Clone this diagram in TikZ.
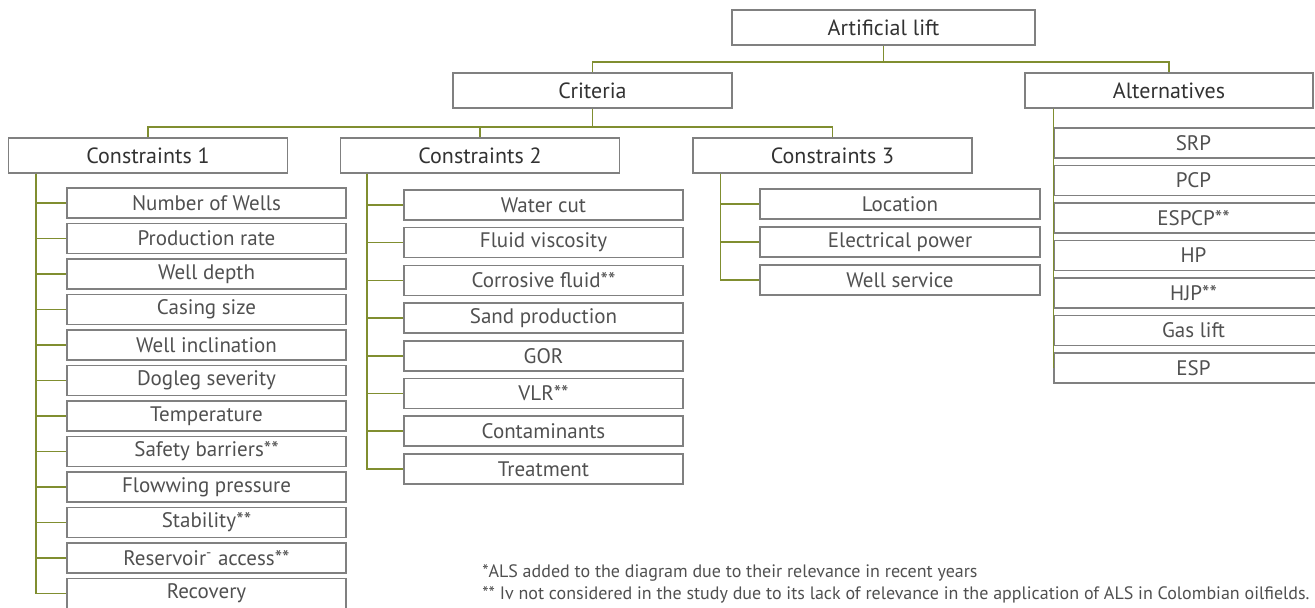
\documentclass[tikz,border=0pt]{standalone}
\usepackage{fontspec}
\setmainfont{PT Sans}
\usetikzlibrary{positioning}
\definecolor{oliva}{RGB}{128,142,48}
\definecolor{gris}{RGB}{128,128,128}
\definecolor{textogris}{RGB}{80,80,80}
\definecolor{titulo}{RGB}{50,50,50}
\tikzset{
  cabeza/.style={rectangle, draw=gris, line width=0.75pt, fill=white, inner sep=0pt,
                 minimum width=139.5pt, minimum height=17.5pt, text=titulo,
                 font=\fontsize{11}{13}\selectfont},
  item/.style={rectangle, draw=gris, line width=0.75pt, fill=white, inner sep=0pt,
               minimum width=139.5pt, minimum height=15pt, text=textogris,
               font=\fontsize{10.5}{12}\selectfont},
  linea/.style={draw=oliva, line width=0.75pt},
  nota/.style={anchor=west, inner sep=0pt, text=textogris, font=\fontsize{9}{10}\selectfont}
}
\begin{document}
\begin{tikzpicture}[x=0.5pt, y=-0.5pt]
    \useasboundingbox (0,0) rectangle (1315,607);
    % niveles superiores
    \node[cabeza, minimum width=151.5pt] (lift) at (883.5,27.5) {Artificial lift};
    \node[cabeza] (crit) at (592.5,90.5) {Criteria};
    \node[cabeza, minimum width=144pt] (alt) at (1169,90.5) {Alternatives};
    \node[cabeza] (c1) at (148,155.5) {Constraints 1};
    \node[cabeza] (c2) at (480,155.5) {Constraints 2};
    \node[cabeza] (c3) at (832.5,155.5) {Constraints 3};
    % Constraints 1
    \begin{scope}[node distance=2pt]
    \node[item] (p1) at (206.5,203) {Number of Wells};
    \node[item, below=of p1] (p2) {Production rate};
    \node[item, below=of p2] (p3) {Well depth};
    \node[item, below=of p3] (p4) {Casing size};
    \node[item, below=of p4] (p5) {Well inclination};
    \node[item, below=of p5] (p6) {Dogleg severity};
    \node[item, below=of p6] (p7) {Temperature};
    \node[item, below=of p7] (p8) {Safety barriers**};
    \node[item, below=of p8] (p9) {Flowwing pressure};
    \node[item, below=of p9] (p10) {Stability**};
    \node[item, below=of p10] (p11) {Reservoir\textsuperscript{-} access**};
    \node[item, below=of p11] (p12) {Recovery};
    \end{scope}
    % Constraints 2
    \begin{scope}[node distance=3.1pt]
    \node[item] (q1) at (543.5,205) {Water cut};
    \node[item, below=of q1] (q2) {Fluid viscosity};
    \node[item, below=of q2] (q3) {Corrosive fluid**};
    \node[item, below=of q3] (q4) {Sand production};
    \node[item, below=of q4] (q5) {GOR};
    \node[item, below=of q5] (q6) {VLR**};
    \node[item, below=of q6] (q7) {Contaminants};
    \node[item, below=of q7] (q8) {Treatment};
    \end{scope}
    % Constraints 3
    \begin{scope}[node distance=3.25pt]
    \node[item, minimum width=140pt] (r1) at (900,204) {Location};
    \node[item, minimum width=140pt, below=of r1] (r2) {Electrical power};
    \node[item, minimum width=140pt, below=of r2] (r3) {Well service};
    \end{scope}
    % Alternatives
    \begin{scope}[node distance=3pt, every node/.append style={minimum width=124.5pt}]
    \node[item] (s1) at (1193.5,143) {SRP};
    \node[item, below=of s1] (s2) {PCP};
    \node[item, below=of s2] (s3) {ESPCP**};
    \node[item, below=of s3] (s4) {HP};
    \node[item, below=of s4] (s5) {HJP**};
    \node[item, below=of s5] (s6) {Gas lift};
    \node[item, below=of s6] (s7) {ESP};
    \end{scope}
    % ramas
    \draw[linea] (lift.south) -- ++(0,16) -| (crit.north);
    \draw[linea] (lift.south) -- ++(0,16) -| (alt.north);
    \draw[linea] (crit.south) -- ++(0,18) -| (c1.north);
    \draw[linea] (crit.south) -- ++(0,18) -| (c2.north);
    \draw[linea] (crit.south) -- ++(0,18) -| (c3.north);
    \foreach \i in {1,...,12} \draw[linea] ([xshift=14pt]c1.south west) |- (p\i.west);
    \foreach \i in {1,...,8} \draw[linea] ([xshift=13.5pt]c2.south west) |- (q\i.west);
    \foreach \i in {1,...,3} \draw[linea] ([xshift=14pt]c3.south west) |- (r\i.west);
    \foreach \i in {1,...,7} \draw[linea] ([xshift=14.5pt]alt.south west) |- (s\i.west);
    % notas
    \node[nota] (n1) at (482,573) {*ALS added to the diagram due to their relevance in recent years};
    \node[nota] (n2) at (482,595) {** Iv not considered in the study due to its lack of relevance in the application of ALS in Colombian oilfields.};
\end{tikzpicture}
\end{document}
